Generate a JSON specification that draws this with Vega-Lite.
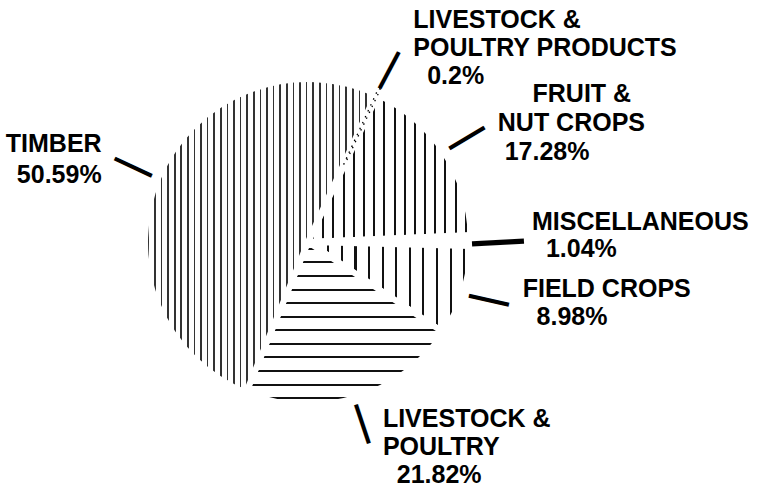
{
  "$schema": "https://vega.github.io/schema/vega-lite/v6.json",
  "width": 616,
  "height": 484,
  "autosize": {"type": "none"},
  "padding": {"left": 0, "top": 0, "right": 146, "bottom": 7},
  "background": "white",
  "config": {"view": {"stroke": null}},
  "data": {
    "values": [
      {"cat": "LPP", "label": "LIVESTOCK &\nPOULTRY PRODUCTS\n\u200b\u00a0\u00a00.2%", "value": 0.2, "idx": 1},
      {"cat": "Fruit", "label": "\u200b\u00a0\u00a0\u00a0\u00a0\u00a0FRUIT &\nNUT CROPS\n\u200b\u00a017.28%", "value": 17.28, "idx": 2},
      {"cat": "Misc", "label": "MISCELLANEOUS\n\u200b\u00a0\u00a01.04%", "value": 1.04, "idx": 3},
      {"cat": "Field", "label": "FIELD CROPS\n\u200b\u00a0\u00a08.98%", "value": 8.98, "idx": 4},
      {"cat": "Livestock", "label": "LIVESTOCK &\nPOULTRY\n\u200b\u00a0\u00a021.82%", "value": 21.82, "idx": 5},
      {"cat": "Timber", "label": "TIMBER\n50.59%", "value": 50.59, "idx": 6}
    ]
  },
  "layer": [
    {
      "mark": {"type": "arc", "outerRadius": 163, "stroke": "white", "strokeWidth": 6},
      "encoding": {
        "theta": {"field": "value", "type": "quantitative", "stack": true, "scale": {"range": [0.43, 6.7132]}},
        "order": {"field": "idx", "type": "quantitative"},
        "fill": {
          "condition": [
            {"test": "datum.cat === 'Timber'", "value": {"gradient": "linear", "x1": 0, "y1": 0, "x2": 1, "y2": 0, "stops": [
              {"offset":0.0108,"color":"#fff"},{"offset":0.0108,"color":"#333"},{"offset":0.0178,"color":"#333"},{"offset":0.0178,"color":"#fff"},
              {"offset":0.0394,"color":"#fff"},{"offset":0.0394,"color":"#333"},{"offset":0.0464,"color":"#333"},{"offset":0.0464,"color":"#fff"},
              {"offset":0.0679,"color":"#fff"},{"offset":0.0679,"color":"#333"},{"offset":0.0749,"color":"#333"},{"offset":0.0749,"color":"#fff"},
              {"offset":0.0965,"color":"#fff"},{"offset":0.0965,"color":"#333"},{"offset":0.1035,"color":"#333"},{"offset":0.1035,"color":"#fff"},
              {"offset":0.1251,"color":"#fff"},{"offset":0.1251,"color":"#333"},{"offset":0.1321,"color":"#333"},{"offset":0.1321,"color":"#fff"},
              {"offset":0.1536,"color":"#fff"},{"offset":0.1536,"color":"#333"},{"offset":0.1606,"color":"#333"},{"offset":0.1606,"color":"#fff"},
              {"offset":0.1822,"color":"#fff"},{"offset":0.1822,"color":"#333"},{"offset":0.1892,"color":"#333"},{"offset":0.1892,"color":"#fff"},
              {"offset":0.2108,"color":"#fff"},{"offset":0.2108,"color":"#333"},{"offset":0.2178,"color":"#333"},{"offset":0.2178,"color":"#fff"},
              {"offset":0.2394,"color":"#fff"},{"offset":0.2394,"color":"#333"},{"offset":0.2464,"color":"#333"},{"offset":0.2464,"color":"#fff"},
              {"offset":0.2679,"color":"#fff"},{"offset":0.2679,"color":"#333"},{"offset":0.2749,"color":"#333"},{"offset":0.2749,"color":"#fff"},
              {"offset":0.2965,"color":"#fff"},{"offset":0.2965,"color":"#333"},{"offset":0.3035,"color":"#333"},{"offset":0.3035,"color":"#fff"},
              {"offset":0.3251,"color":"#fff"},{"offset":0.3251,"color":"#333"},{"offset":0.3321,"color":"#333"},{"offset":0.3321,"color":"#fff"},
              {"offset":0.3536,"color":"#fff"},{"offset":0.3536,"color":"#333"},{"offset":0.3606,"color":"#333"},{"offset":0.3606,"color":"#fff"},
              {"offset":0.3822,"color":"#fff"},{"offset":0.3822,"color":"#333"},{"offset":0.3892,"color":"#333"},{"offset":0.3892,"color":"#fff"},
              {"offset":0.4108,"color":"#fff"},{"offset":0.4108,"color":"#333"},{"offset":0.4178,"color":"#333"},{"offset":0.4178,"color":"#fff"},
              {"offset":0.4394,"color":"#fff"},{"offset":0.4394,"color":"#333"},{"offset":0.4464,"color":"#333"},{"offset":0.4464,"color":"#fff"},
              {"offset":0.4679,"color":"#fff"},{"offset":0.4679,"color":"#333"},{"offset":0.4749,"color":"#333"},{"offset":0.4749,"color":"#fff"},
              {"offset":0.4965,"color":"#fff"},{"offset":0.4965,"color":"#333"},{"offset":0.5035,"color":"#333"},{"offset":0.5035,"color":"#fff"},
              {"offset":0.5251,"color":"#fff"},{"offset":0.5251,"color":"#333"},{"offset":0.5321,"color":"#333"},{"offset":0.5321,"color":"#fff"},
              {"offset":0.5536,"color":"#fff"},{"offset":0.5536,"color":"#333"},{"offset":0.5606,"color":"#333"},{"offset":0.5606,"color":"#fff"},
              {"offset":0.5822,"color":"#fff"},{"offset":0.5822,"color":"#333"},{"offset":0.5892,"color":"#333"},{"offset":0.5892,"color":"#fff"},
              {"offset":0.6108,"color":"#fff"},{"offset":0.6108,"color":"#333"},{"offset":0.6178,"color":"#333"},{"offset":0.6178,"color":"#fff"},
              {"offset":0.6394,"color":"#fff"},{"offset":0.6394,"color":"#333"},{"offset":0.6464,"color":"#333"},{"offset":0.6464,"color":"#fff"},
              {"offset":0.6679,"color":"#fff"},{"offset":0.6679,"color":"#333"},{"offset":0.6749,"color":"#333"},{"offset":0.6749,"color":"#fff"},
              {"offset":0.6965,"color":"#fff"},{"offset":0.6965,"color":"#333"},{"offset":0.7035,"color":"#333"},{"offset":0.7035,"color":"#fff"},
              {"offset":0.7251,"color":"#fff"},{"offset":0.7251,"color":"#333"},{"offset":0.7321,"color":"#333"},{"offset":0.7321,"color":"#fff"},
              {"offset":0.7536,"color":"#fff"},{"offset":0.7536,"color":"#333"},{"offset":0.7606,"color":"#333"},{"offset":0.7606,"color":"#fff"},
              {"offset":0.7822,"color":"#fff"},{"offset":0.7822,"color":"#333"},{"offset":0.7892,"color":"#333"},{"offset":0.7892,"color":"#fff"},
              {"offset":0.8108,"color":"#fff"},{"offset":0.8108,"color":"#333"},{"offset":0.8178,"color":"#333"},{"offset":0.8178,"color":"#fff"},
              {"offset":0.8394,"color":"#fff"},{"offset":0.8394,"color":"#333"},{"offset":0.8464,"color":"#333"},{"offset":0.8464,"color":"#fff"},
              {"offset":0.8679,"color":"#fff"},{"offset":0.8679,"color":"#333"},{"offset":0.8749,"color":"#333"},{"offset":0.8749,"color":"#fff"},
              {"offset":0.8965,"color":"#fff"},{"offset":0.8965,"color":"#333"},{"offset":0.9035,"color":"#333"},{"offset":0.9035,"color":"#fff"},
              {"offset":0.9251,"color":"#fff"},{"offset":0.9251,"color":"#333"},{"offset":0.9321,"color":"#333"},{"offset":0.9321,"color":"#fff"},
              {"offset":0.9536,"color":"#fff"},{"offset":0.9536,"color":"#333"},{"offset":0.9606,"color":"#333"},{"offset":0.9606,"color":"#fff"},
              {"offset":0.9822,"color":"#fff"},{"offset":0.9822,"color":"#333"},{"offset":0.9892,"color":"#333"},{"offset":0.9892,"color":"#fff"}
            ]}},
            {"test": "datum.cat === 'Fruit'", "value": {"gradient": "linear", "x1": 0, "y1": 0, "x2": 1, "y2": 0, "stops": [
              {"offset":0.0253,"color":"#fff"},{"offset":0.0253,"color":"#111"},{"offset":0.0373,"color":"#111"},{"offset":0.0373,"color":"#fff"},
              {"offset":0.0878,"color":"#fff"},{"offset":0.0878,"color":"#111"},{"offset":0.0998,"color":"#111"},{"offset":0.0998,"color":"#fff"},
              {"offset":0.1503,"color":"#fff"},{"offset":0.1503,"color":"#111"},{"offset":0.1623,"color":"#111"},{"offset":0.1623,"color":"#fff"},
              {"offset":0.2128,"color":"#fff"},{"offset":0.2128,"color":"#111"},{"offset":0.2248,"color":"#111"},{"offset":0.2248,"color":"#fff"},
              {"offset":0.2753,"color":"#fff"},{"offset":0.2753,"color":"#111"},{"offset":0.2873,"color":"#111"},{"offset":0.2873,"color":"#fff"},
              {"offset":0.3378,"color":"#fff"},{"offset":0.3378,"color":"#111"},{"offset":0.3498,"color":"#111"},{"offset":0.3498,"color":"#fff"},
              {"offset":0.4003,"color":"#fff"},{"offset":0.4003,"color":"#111"},{"offset":0.4123,"color":"#111"},{"offset":0.4123,"color":"#fff"},
              {"offset":0.4628,"color":"#fff"},{"offset":0.4628,"color":"#111"},{"offset":0.4748,"color":"#111"},{"offset":0.4748,"color":"#fff"},
              {"offset":0.5253,"color":"#fff"},{"offset":0.5253,"color":"#111"},{"offset":0.5373,"color":"#111"},{"offset":0.5373,"color":"#fff"},
              {"offset":0.5878,"color":"#fff"},{"offset":0.5878,"color":"#111"},{"offset":0.5998,"color":"#111"},{"offset":0.5998,"color":"#fff"},
              {"offset":0.6503,"color":"#fff"},{"offset":0.6503,"color":"#111"},{"offset":0.6623,"color":"#111"},{"offset":0.6623,"color":"#fff"},
              {"offset":0.7128,"color":"#fff"},{"offset":0.7128,"color":"#111"},{"offset":0.7248,"color":"#111"},{"offset":0.7248,"color":"#fff"},
              {"offset":0.7753,"color":"#fff"},{"offset":0.7753,"color":"#111"},{"offset":0.7873,"color":"#111"},{"offset":0.7873,"color":"#fff"},
              {"offset":0.8378,"color":"#fff"},{"offset":0.8378,"color":"#111"},{"offset":0.8498,"color":"#111"},{"offset":0.8498,"color":"#fff"},
              {"offset":0.9003,"color":"#fff"},{"offset":0.9003,"color":"#111"},{"offset":0.9123,"color":"#111"},{"offset":0.9123,"color":"#fff"},
              {"offset":0.9628,"color":"#fff"},{"offset":0.9628,"color":"#111"},{"offset":0.9748,"color":"#111"},{"offset":0.9748,"color":"#fff"}
            ]}},
            {"test": "datum.cat === 'Field'", "value": {"gradient": "linear", "x1": 0, "y1": 0, "x2": 1, "y2": 0, "stops": [
              {"offset":0.0352,"color":"#fff"},{"offset":0.0352,"color":"#111"},{"offset":0.0482,"color":"#111"},{"offset":0.0482,"color":"#fff"},
              {"offset":0.1185,"color":"#fff"},{"offset":0.1185,"color":"#111"},{"offset":0.1315,"color":"#111"},{"offset":0.1315,"color":"#fff"},
              {"offset":0.2018,"color":"#fff"},{"offset":0.2018,"color":"#111"},{"offset":0.2148,"color":"#111"},{"offset":0.2148,"color":"#fff"},
              {"offset":0.2852,"color":"#fff"},{"offset":0.2852,"color":"#111"},{"offset":0.2982,"color":"#111"},{"offset":0.2982,"color":"#fff"},
              {"offset":0.3685,"color":"#fff"},{"offset":0.3685,"color":"#111"},{"offset":0.3815,"color":"#111"},{"offset":0.3815,"color":"#fff"},
              {"offset":0.4518,"color":"#fff"},{"offset":0.4518,"color":"#111"},{"offset":0.4648,"color":"#111"},{"offset":0.4648,"color":"#fff"},
              {"offset":0.5352,"color":"#fff"},{"offset":0.5352,"color":"#111"},{"offset":0.5482,"color":"#111"},{"offset":0.5482,"color":"#fff"},
              {"offset":0.6185,"color":"#fff"},{"offset":0.6185,"color":"#111"},{"offset":0.6315,"color":"#111"},{"offset":0.6315,"color":"#fff"},
              {"offset":0.7018,"color":"#fff"},{"offset":0.7018,"color":"#111"},{"offset":0.7148,"color":"#111"},{"offset":0.7148,"color":"#fff"},
              {"offset":0.7852,"color":"#fff"},{"offset":0.7852,"color":"#111"},{"offset":0.7982,"color":"#111"},{"offset":0.7982,"color":"#fff"},
              {"offset":0.8685,"color":"#fff"},{"offset":0.8685,"color":"#111"},{"offset":0.8815,"color":"#111"},{"offset":0.8815,"color":"#fff"},
              {"offset":0.9518,"color":"#fff"},{"offset":0.9518,"color":"#111"},{"offset":0.9648,"color":"#111"},{"offset":0.9648,"color":"#fff"}
            ]}},
            {"test": "datum.cat === 'Livestock'", "value": {"gradient": "linear", "x1": 0, "y1": 0, "x2": 0, "y2": 1, "stops": [
              {"offset":0.0357,"color":"#fff"},{"offset":0.0357,"color":"#111"},{"offset":0.0477,"color":"#111"},{"offset":0.0477,"color":"#fff"},
              {"offset":0.1190,"color":"#fff"},{"offset":0.1190,"color":"#111"},{"offset":0.1310,"color":"#111"},{"offset":0.1310,"color":"#fff"},
              {"offset":0.2023,"color":"#fff"},{"offset":0.2023,"color":"#111"},{"offset":0.2143,"color":"#111"},{"offset":0.2143,"color":"#fff"},
              {"offset":0.2857,"color":"#fff"},{"offset":0.2857,"color":"#111"},{"offset":0.2977,"color":"#111"},{"offset":0.2977,"color":"#fff"},
              {"offset":0.3690,"color":"#fff"},{"offset":0.3690,"color":"#111"},{"offset":0.3810,"color":"#111"},{"offset":0.3810,"color":"#fff"},
              {"offset":0.4523,"color":"#fff"},{"offset":0.4523,"color":"#111"},{"offset":0.4643,"color":"#111"},{"offset":0.4643,"color":"#fff"},
              {"offset":0.5357,"color":"#fff"},{"offset":0.5357,"color":"#111"},{"offset":0.5477,"color":"#111"},{"offset":0.5477,"color":"#fff"},
              {"offset":0.6190,"color":"#fff"},{"offset":0.6190,"color":"#111"},{"offset":0.6310,"color":"#111"},{"offset":0.6310,"color":"#fff"},
              {"offset":0.7023,"color":"#fff"},{"offset":0.7023,"color":"#111"},{"offset":0.7143,"color":"#111"},{"offset":0.7143,"color":"#fff"},
              {"offset":0.7857,"color":"#fff"},{"offset":0.7857,"color":"#111"},{"offset":0.7977,"color":"#111"},{"offset":0.7977,"color":"#fff"},
              {"offset":0.8690,"color":"#fff"},{"offset":0.8690,"color":"#111"},{"offset":0.8810,"color":"#111"},{"offset":0.8810,"color":"#fff"},
              {"offset":0.9523,"color":"#fff"},{"offset":0.9523,"color":"#111"},{"offset":0.9643,"color":"#111"},{"offset":0.9643,"color":"#fff"}
            ]}}
          ],
          "value": "white"
        }
      }
    },
    {
      "mark": {"type": "arc", "outerRadius": 169, "innerRadius": 86, "filled": true, "fill": "white", "fillOpacity": 0, "stroke": "black", "strokeWidth": 1.3, "strokeDash": [1.5, 5]},
      "encoding": {
        "theta": {"field": "value", "type": "quantitative", "stack": true},
        "order": {"field": "idx", "type": "quantitative"},
        "strokeOpacity": {"condition": {"test": "datum.cat === 'LPP'", "value": 1}, "value": 0}
      }
    },
    {
      "mark": {"type": "text", "text": "\u2014", "radius": 190, "align": "center", "baseline": "middle", "font": "Liberation Sans", "fontWeight": "bold", "color": "black"},
      "encoding": {
        "theta": {"field": "value", "type": "quantitative", "stack": true},
        "order": {"field": "idx", "type": "quantitative"},
        "angle": {
          "condition": [
            {"test": "datum.cat === 'Timber'", "value": 25},
            {"test": "datum.cat === 'LPP'", "value": -62},
            {"test": "datum.cat === 'Fruit'", "value": -31},
            {"test": "datum.cat === 'Misc'", "value": -3},
            {"test": "datum.cat === 'Field'", "value": 12.6},
            {"test": "datum.cat === 'Livestock'", "value": 71.6}
          ],
          "value": 0
        },
        "size": {"condition": {"test": "datum.cat === 'Misc'", "value": 52}, "value": 41}
      }
    },
    {
      "mark": {"type": "text", "radius": 235, "dx": 6, "dy": -1, "align": "left", "baseline": "alphabetic", "font": "Liberation Sans", "fontWeight": "bold", "fontSize": 25, "lineHeight": 28, "lineBreak": "\n", "color": "black"},
      "encoding": {
        "theta": {"field": "value", "type": "quantitative", "stack": true},
        "order": {"field": "idx", "type": "quantitative"},
        "text": {"condition": {"test": "datum.cat === 'LPP'", "field": "label"}, "value": ""}
      }
    },
    {
      "mark": {"type": "text", "radius": 230, "dx": -2, "dy": -13, "align": "left", "baseline": "alphabetic", "font": "Liberation Sans", "fontWeight": "bold", "fontSize": 25, "lineHeight": 29, "lineBreak": "\n", "color": "black"},
      "encoding": {
        "theta": {"field": "value", "type": "quantitative", "stack": true},
        "order": {"field": "idx", "type": "quantitative"},
        "text": {"condition": {"test": "datum.cat === 'Fruit'", "field": "label"}, "value": ""}
      }
    },
    {
      "mark": {"type": "text", "radius": 224, "dx": 0, "dy": -10, "align": "left", "baseline": "alphabetic", "font": "Liberation Sans", "fontWeight": "bold", "fontSize": 25, "lineHeight": 27, "lineBreak": "\n", "color": "black"},
      "encoding": {
        "theta": {"field": "value", "type": "quantitative", "stack": true},
        "order": {"field": "idx", "type": "quantitative"},
        "text": {"condition": {"test": "datum.cat === 'Misc'", "field": "label"}, "value": ""}
      }
    },
    {
      "mark": {"type": "text", "radius": 222, "dx": 3, "dy": -12, "align": "left", "baseline": "alphabetic", "font": "Liberation Sans", "fontWeight": "bold", "fontSize": 25, "lineHeight": 28, "lineBreak": "\n", "color": "black"},
      "encoding": {
        "theta": {"field": "value", "type": "quantitative", "stack": true},
        "order": {"field": "idx", "type": "quantitative"},
        "text": {"condition": {"test": "datum.cat === 'Field'", "field": "label"}, "value": ""}
      }
    },
    {
      "mark": {"type": "text", "radius": 195, "dx": 18, "dy": -2, "align": "left", "baseline": "alphabetic", "font": "Liberation Sans", "fontWeight": "bold", "fontSize": 25, "lineHeight": 28, "lineBreak": "\n", "color": "black"},
      "encoding": {
        "theta": {"field": "value", "type": "quantitative", "stack": true},
        "order": {"field": "idx", "type": "quantitative"},
        "text": {"condition": {"test": "datum.cat === 'Livestock'", "field": "label"}, "value": ""}
      }
    },
    {
      "mark": {"type": "text", "radius": 225, "dx": 0, "dy": 0, "align": "right", "baseline": "alphabetic", "font": "Liberation Sans", "fontWeight": "bold", "fontSize": 25, "lineHeight": 31, "lineBreak": "\n", "color": "black"},
      "encoding": {
        "theta": {"field": "value", "type": "quantitative", "stack": true},
        "order": {"field": "idx", "type": "quantitative"},
        "text": {"condition": {"test": "datum.cat === 'Timber'", "field": "label"}, "value": ""}
      }
    }
  ]
}
